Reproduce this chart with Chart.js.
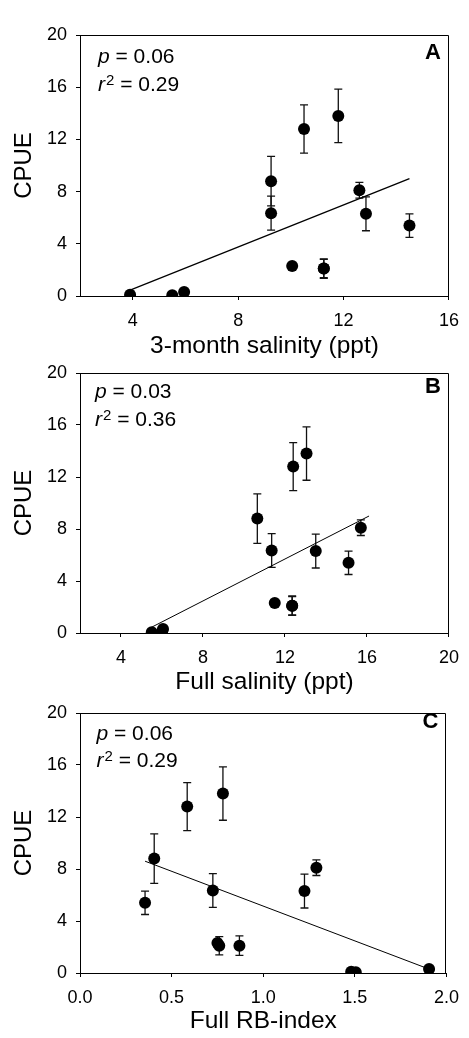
<!DOCTYPE html>
<html>
<head>
<meta charset="utf-8">
<title>CPUE vs salinity and RB-index</title>
<script src="https://cdn.jsdelivr.net/npm/chart.js@4.4.0/dist/chart.umd.min.js"></script>
<style>
    html, body { margin: 0; padding: 0; background: #fff; }
    body { position: relative; width: 469px; height: 1038px; overflow: hidden; }
    .panel { position: absolute; left: 0; width: 469px; }
</style>
</head>
<body>
<div class="panel" style="top:0;height:370px"><canvas id="chartA"></canvas></div>
<div class="panel" style="top:330px;height:380px"><canvas id="chartB"></canvas></div>
<div class="panel" style="top:670px;height:368px"><canvas id="chartC"></canvas></div>

<script>
// Site means (CPUE) with standard errors, same sites in every panel
const cpue   = [5.4, 8.8, 12.8, 13.8, 6.35, 6.3, 8.1, 2.3, 2.1, 2.1, 0.1, 0.05, 0.3];
const cpueSE = [0.9, 1.9, 1.85, 2.05, 1.3, 1.3, 0.6, 0, 0.7, 0.75, 0, 0, 0];

// Predictors per site
const salinity3Month = [14.5, 9.25, 10.5, 11.8, 9.25, 12.85, 12.6, 10.05, 11.25, 11.25, 3.9, 5.5, 5.95];
const salinityFull   = [15.1, 10.65, 12.4, 13.05, 11.35, 13.5, 15.7, 11.5, 12.35, 12.35, 6.0, 5.5, 6.05];
const rbIndex        = [0.355, 0.405, 0.585, 0.78, 0.725, 1.225, 1.29, 0.75, 0.76, 0.87, 1.48, 1.505, 1.905];

// Regression line end points
const fitXA = [3.9, 14.5];   const fitYA = [0.45, 9.0];
const fitXB = [5.5, 16.1];   const fitYB = [0.45, 9.0];
const fitXC = [0.355, 1.905]; const fitYC = [8.6, 0.3];

// Axis ticks
const yTicks  = [0, 4, 8, 12, 16, 20];
const xTicksA = [4, 8, 12, 16];
const xTicksB = [4, 8, 12, 16, 20];
const xTicksC = [0, 0.5, 1.0, 1.5, 2.0];

// Statistics text
const panelLetters = ['A', 'B', 'C'];
const pValues  = ['0.06', '0.03', '0.06'];
const r2Values = ['0.29', '0.36', '0.29'];

const FONT = "'Liberation Sans', Arial, Helvetica, sans-serif";

// Top and right edges of the plot box (left/bottom come from the axes)
const framePlugin = {
    id: 'frame',
    afterDraw(chart) {
        const { ctx, chartArea: a } = chart;
        const top = Math.round(a.top) + 0.5;
        const right = Math.round(a.right) - 0.5;
        ctx.save();
        ctx.strokeStyle = '#000';
        ctx.lineWidth = 1;
        ctx.beginPath();
        ctx.moveTo(a.left, top);
        ctx.lineTo(right, top);
        ctx.lineTo(right, a.bottom);
        ctx.stroke();
        ctx.restore();
    }
};

// Vertical error bars with caps, drawn under the points
const errorBarPlugin = {
    id: 'errorBars',
    beforeDatasetsDraw(chart, args, opts) {
        const { ctx, scales: { x, y } } = chart;
        const points = chart.data.datasets[0].data;
        ctx.save();
        ctx.strokeStyle = '#111';
        ctx.lineWidth = 1.3;
        points.forEach((pt, i) => {
            const err = opts.values[i];
            if (!err) return;
            const px = x.getPixelForValue(pt.x);
            const top = y.getPixelForValue(pt.y + err);
            const bot = y.getPixelForValue(pt.y - err);
            ctx.beginPath();
            ctx.moveTo(px, top);
            ctx.lineTo(px, bot);
            ctx.moveTo(px - 4, top);
            ctx.lineTo(px + 4, top);
            ctx.moveTo(px - 4, bot);
            ctx.lineTo(px + 4, bot);
            ctx.stroke();
        });
        ctx.restore();
    }
};

// p / r² text and the panel letter
const statsPlugin = {
    id: 'stats',
    afterDraw(chart, args, opts) {
        const { ctx, chartArea: a } = chart;
        const x0 = a.left + opts.textX;
        ctx.save();
        ctx.fillStyle = '#000';
        ctx.textBaseline = 'alphabetic';
        ctx.textAlign = 'left';

        let y = a.top + opts.pY;
        ctx.font = `italic 21px ${FONT}`;
        ctx.fillText('p', x0, y);
        let w = ctx.measureText('p').width;
        ctx.font = `21px ${FONT}`;
        ctx.fillText(' = ' + opts.p, x0 + w, y);

        y = a.top + opts.rY;
        ctx.font = `italic 21px ${FONT}`;
        ctx.fillText('r', x0, y);
        w = ctx.measureText('r').width + 1;
        ctx.font = `15px ${FONT}`;
        ctx.fillText('2', x0 + w, y - 6);
        w += ctx.measureText('2').width;
        ctx.font = `21px ${FONT}`;
        ctx.fillText(' = ' + opts.r2, x0 + w, y);

        ctx.font = `bold 22px ${FONT}`;
        ctx.textAlign = 'right';
        ctx.fillText(opts.letter, a.right - 8, a.top + opts.letterY);
        ctx.restore();
    }
};

function makePanel(canvasId, xs, fitX, fitY, axis, layout, stats) {
    const points = xs.map((x, i) => ({ x: x, y: cpue[i] }));
    const fit = fitX.map((x, i) => ({ x: x, y: fitY[i] }));

    return new Chart(document.getElementById(canvasId), {
        type: 'scatter',
        data: {
            datasets: [
                {
                    data: points,
                    backgroundColor: '#000',
                    borderWidth: 0,
                    pointRadius: 6,
                    pointHoverRadius: 6,
                    order: 0
                },
                {
                    data: fit,
                    showLine: true,
                    borderColor: '#000',
                    borderWidth: layout.fitWidth,
                    pointRadius: 0,
                    pointHoverRadius: 0,
                    order: 1
                }
            ]
        },
        options: {
            responsive: true,
            maintainAspectRatio: false,
            animation: false,
            events: [],
            layout: { padding: { top: layout.top, right: 16, left: 0, bottom: 0 } },
            plugins: {
                legend: { display: false },
                tooltip: { enabled: false },
                errorBars: { values: cpueSE },
                stats: stats
            },
            scales: {
                x: {
                    type: 'linear',
                    min: axis.min,
                    max: axis.max,
                    afterBuildTicks: (scale) => { scale.ticks = axis.ticks.map(v => ({ value: v })); },
                    afterFit: (scale) => { scale.height = layout.xHeight; },
                    grid: { drawOnChartArea: false, drawTicks: true, tickLength: 4, color: '#000' },
                    border: { color: '#000', width: 1 },
                    ticks: {
                        color: '#000',
                        font: { family: FONT, size: 18 },
                        padding: 10,
                        maxRotation: 0,
                        autoSkip: false,
                        callback: axis.format
                    },
                    title: {
                        display: true,
                        text: axis.title,
                        color: '#000',
                        font: { family: FONT, size: 24.5 },
                        padding: { top: 0, bottom: layout.titlePad }
                    }
                },
                y: {
                    type: 'linear',
                    min: 0,
                    max: 20,
                    afterBuildTicks: (scale) => { scale.ticks = yTicks.map(v => ({ value: v })); },
                    afterFit: (scale) => { scale.width = 80; },
                    grid: { drawOnChartArea: false, drawTicks: true, tickLength: 4, color: '#000' },
                    border: { color: '#000', width: 1 },
                    ticks: {
                        color: '#000',
                        font: { family: FONT, size: 18 },
                        padding: 9,
                        autoSkip: false
                    },
                    title: {
                        display: true,
                        text: 'CPUE',
                        color: '#000',
                        font: { family: FONT, size: 24 },
                        padding: { top: 9.6, bottom: 0 }
                    }
                }
            }
        },
        plugins: [framePlugin, errorBarPlugin, statsPlugin]
    });
}

makePanel('chartA', salinity3Month, fitXA, fitYA,
    { min: 2, max: 16, ticks: xTicksA, title: '3-month salinity (ppt)', format: v => String(v) },
    { top: 35, xHeight: 74, titlePad: 8.8, fitWidth: 1.3 },
    { p: pValues[0], r2: r2Values[0], letter: panelLetters[0], textX: 18, pY: 28, rY: 56, letterY: 24 });

makePanel('chartB', salinityFull, fitXB, fitYB,
    { min: 2, max: 20, ticks: xTicksB, title: 'Full salinity (ppt)', format: v => String(v) },
    { top: 43, xHeight: 77, titlePad: 12.8, fitWidth: 1 },
    { p: pValues[1], r2: r2Values[1], letter: panelLetters[1], textX: 15, pY: 25, rY: 53, letterY: 19.5 });

makePanel('chartC', rbIndex, fitXC, fitYC,
    { min: 0, max: 2, ticks: xTicksC, title: 'Full RB-index', format: v => v.toFixed(1) },
    { top: 43, xHeight: 65, titlePad: 1.8, fitWidth: 1 },
    { p: pValues[2], r2: r2Values[2], letter: panelLetters[2], textX: 16.5, pY: 26.5, rY: 54, letterY: 14.5 });
</script>
</body>
</html>
